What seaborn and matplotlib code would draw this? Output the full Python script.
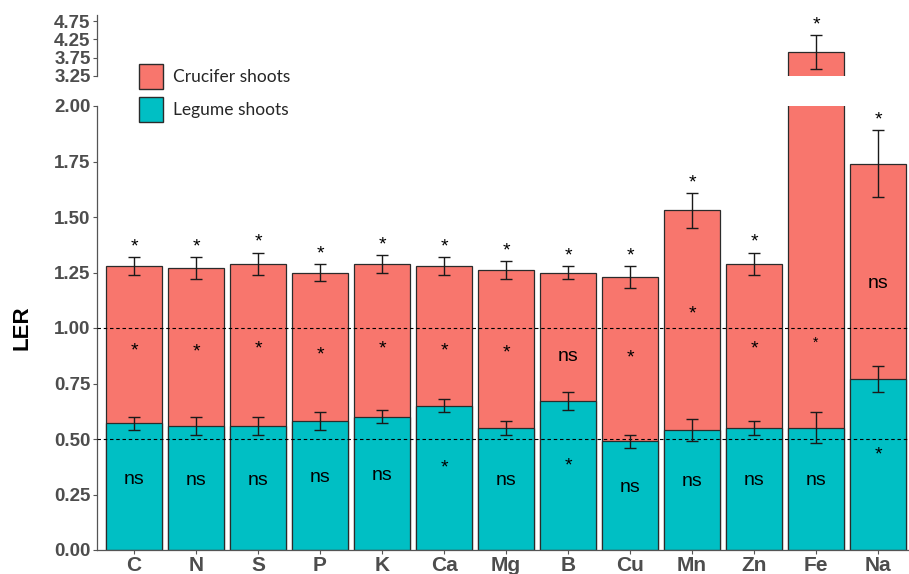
import numpy as np
import pandas as pd
import matplotlib
matplotlib.use("Agg")
import matplotlib.pyplot as plt
import seaborn as sns
from matplotlib.patches import Patch
from matplotlib.ticker import FormatStrFormatter

# ---- data -------------------------------------------------------------
elements = ["C", "N", "S", "P", "K", "Ca", "Mg", "B", "Cu", "Mn", "Zn", "Fe", "Na"]
legume = [0.57, 0.56, 0.56, 0.58, 0.60, 0.65, 0.55, 0.67, 0.49, 0.54, 0.55, 0.55, 0.77]
legume_se = [0.03, 0.04, 0.04, 0.04, 0.03, 0.03, 0.03, 0.04, 0.03, 0.05, 0.03, 0.07, 0.06]
total = [1.28, 1.27, 1.29, 1.25, 1.29, 1.28, 1.26, 1.25, 1.23, 1.53, 1.29, 3.90, 1.74]
total_se = [0.04, 0.05, 0.05, 0.04, 0.04, 0.04, 0.04, 0.03, 0.05, 0.08, 0.05, 0.47, 0.15]

sig_total = ["*"] * 13
sig_crucifer = ["*", "*", "*", "*", "*", "*", "*", "ns", "*", "*", "*", "*", "ns"]
sig_legume = ["ns", "ns", "ns", "ns", "ns", "*", "ns", "*", "ns", "ns", "ns", "ns", "*"]
crucifer_label_y = [0.916, 0.909, 0.923, 0.896, 0.923, 0.916, 0.904, 0.871, 0.883,
                    1.081, 0.923, 0.946, 1.201]
legume_label_y = [0.318, 0.315, 0.315, 0.327, 0.336, 0.386, 0.315, 0.396, 0.282,
                  0.308, 0.312, 0.312, 0.446]

lower_ticks = [0.00, 0.25, 0.50, 0.75, 1.00, 1.25, 1.50, 1.75, 2.00]
upper_ticks = [3.25, 3.75, 4.25, 4.75]

df = pd.DataFrame({"element": elements, "legume": legume, "total": total})

# ---- style ------------------------------------------------------------
sns.set_style("white")
plt.rcParams["font.family"] = ["Liberation Sans", "DejaVu Sans"]
plt.rcParams["lines.scale_dashes"] = False

RED = "#F8766D"
TEAL = "#00BFC4"
EDGE = "#2b2b2b"
AXIS = "#555555"
TICKTXT = "#4D4D4D"
DPI = 100

fig = plt.figure(figsize=(9.09, 5.74), dpi=DPI)
W, H = 909, 574
left_px = 96.8
ax_lo = fig.add_axes([left_px / W, (H - 550) / H, (W - left_px) / W, 444 / H])
ax_hi = fig.add_axes([left_px / W, (H - 76) / H, (W - left_px) / W, 60.5 / H])

x = np.arange(len(elements))

for ax in (ax_lo, ax_hi):
    sns.barplot(data=df, x="element", y="total", color=RED, edgecolor=EDGE,
                linewidth=0.9, width=0.9, saturation=1, errorbar=None, ax=ax, zorder=2)
    sns.barplot(data=df, x="element", y="legume", color=TEAL, edgecolor=EDGE,
                linewidth=0.9, width=0.9, saturation=1, errorbar=None, ax=ax, zorder=2)
    ax.errorbar(x, total, yerr=total_se, fmt="none", ecolor="#1a1a1a",
                elinewidth=1.0, capsize=4.3, capthick=1.0, zorder=4)
    ax.errorbar(x, legume, yerr=legume_se, fmt="none", ecolor="#1a1a1a",
                elinewidth=1.0, capsize=4.3, capthick=1.0, zorder=4)
    ax.set_xlim(-0.6, 12.5)
    ax.set_xlabel("")
    ax.set_ylabel("")
    for side in ("top", "right"):
        ax.spines[side].set_visible(False)
    for side in ("left", "bottom"):
        ax.spines[side].set_color(AXIS)
        ax.spines[side].set_linewidth(0.9)
    ax.yaxis.set_major_formatter(FormatStrFormatter("%.2f"))
    ax.tick_params(axis="y", length=3, width=0.8, color=AXIS, pad=1.5,
                   labelsize=13.5, labelcolor=TICKTXT, left=True)

ax_lo.set_ylim(0, 2.0)
ax_lo.set_yticks(lower_ticks)
ax_lo.tick_params(axis="x", length=3, width=0.8, color=AXIS, pad=1.5,
                  labelsize=15, labelcolor=TICKTXT, bottom=True)
ax_hi.set_ylim(3.25, 4.9)
ax_hi.set_yticks(upper_ticks)
ax_hi.spines["bottom"].set_visible(False)
ax_hi.tick_params(axis="x", bottom=False, labelbottom=False)

for ax in (ax_lo, ax_hi):
    plt.setp(ax.get_yticklabels(), fontweight="bold")
plt.setp(ax_lo.get_xticklabels(), fontweight="bold")

# reference lines
for yref in (1.0, 0.5):
    ax_lo.axhline(yref, color="black", lw=0.8, ls=(0, (2.5, 2.0)), zorder=3)


def sig_text(ax, xi, y, s, size, dy_px=0.0):
    """Place a significance mark with its glyph centred on y (+dy_px)."""
    lift = 0.2 * size if s == "*" else 0.0
    ax.annotate(s, xy=(xi, y), xytext=(0, dy_px * 72 / DPI - lift),
                textcoords="offset points", ha="center", va="center",
                fontsize=size, color="black", zorder=6, annotation_clip=False)


for i in range(len(elements)):
    top = total[i] + total_se[i]
    target = ax_hi if top > 2.0 else ax_lo
    sig_text(target, i, top, sig_total[i], 14, dy_px=14)
    sig_text(ax_lo, i, crucifer_label_y[i], sig_crucifer[i],
             10 if elements[i] == "Fe" else 14)
    sig_text(ax_lo, i, legume_label_y[i], sig_legume[i], 14)

fig.text(22 / W, 1 - 328 / H, "LER", rotation=90, ha="center", va="center",
         fontsize=16, fontweight="bold", color="black")

handles = [Patch(facecolor=RED, edgecolor=EDGE, linewidth=1.0, label="Crucifer shoots"),
           Patch(facecolor=TEAL, edgecolor=EDGE, linewidth=1.0, label="Legume shoots")]
fig.legend(handles=handles, loc="upper left", bbox_to_anchor=(139 / W, 1 - 64 / H),
           frameon=False, prop={"family": "Lato", "size": 12.5},
           handlelength=1.4, handleheight=1.8, handletextpad=0.55,
           labelspacing=0.5, borderpad=0, borderaxespad=0)

fig.savefig("out.png", dpi=DPI)
